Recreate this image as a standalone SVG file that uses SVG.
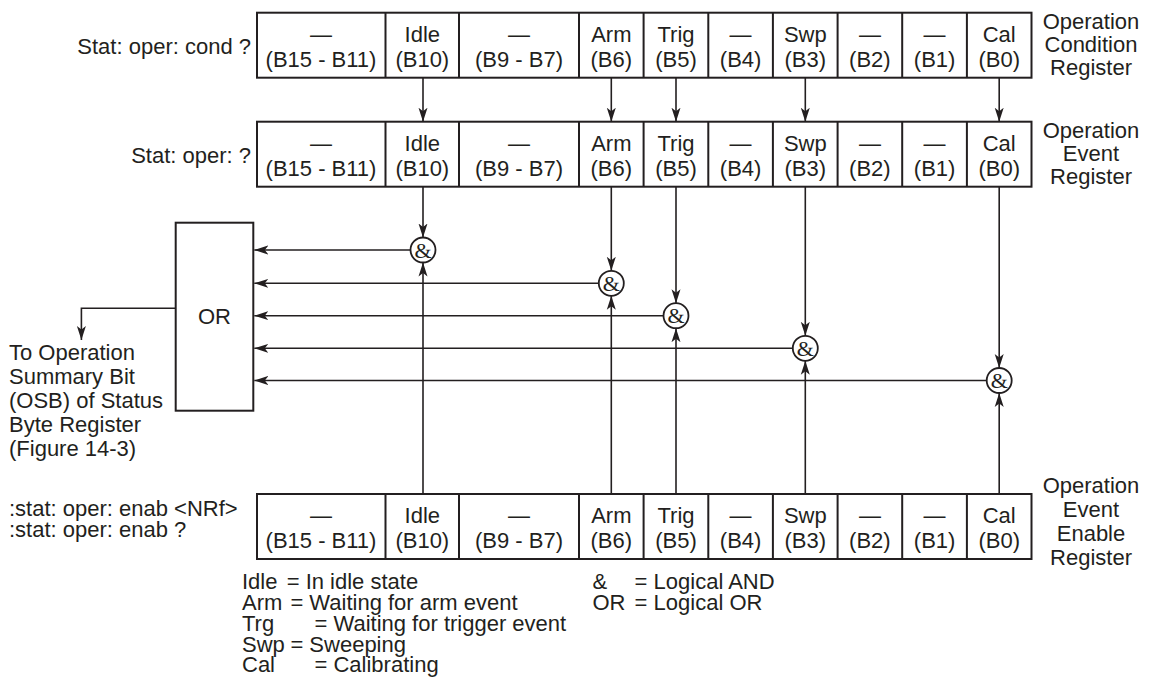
<svg xmlns="http://www.w3.org/2000/svg" width="1160" height="677" viewBox="0 0 1160 677">
<style>
text{font-family:"Liberation Sans",Arial,sans-serif;font-size:22px;fill:#231f20}
.c{text-anchor:middle}
.r{text-anchor:end}
.box{fill:#fff;stroke:#231f20;stroke-width:2}
.ln{fill:none;stroke:#231f20;stroke-width:1.6}
.and{fill:#fff;stroke:#231f20;stroke-width:1.8}
.amp{font-family:"Liberation Serif","Times New Roman",serif;font-size:22px;text-anchor:middle}
</style>
<defs>
<marker id="ah" markerUnits="userSpaceOnUse" markerWidth="15" markerHeight="10" refX="14" refY="5" orient="auto">
<path d="M0,0.5 L14,5 L0,9.5 L3.5,5 z" fill="#231f20"/>
</marker>
<g id="cells">
<rect class="box" x="257" y="0" width="774.5" height="65"/>
<path class="ln" d="M385.5,0V65M459,0V65M579,0V65M643.6,0V65M708.3,0V65M772.9,0V65M837.6,0V65M902.2,0V65M966.9,0V65" style="stroke-width:2"/>
<text class="c" x="321" y="29">—</text><text class="c" x="321" y="54">(B15 - B11)</text>
<text class="c" x="422.3" y="29">Idle</text><text class="c" x="422.3" y="54">(B10)</text>
<text class="c" x="519" y="29">—</text><text class="c" x="519" y="54">(B9 - B7)</text>
<text class="c" x="611.3" y="29">Arm</text><text class="c" x="611.3" y="54">(B6)</text>
<text class="c" x="676" y="29">Trig</text><text class="c" x="676" y="54">(B5)</text>
<text class="c" x="740.6" y="29">—</text><text class="c" x="740.6" y="54">(B4)</text>
<text class="c" x="805.3" y="29">Swp</text><text class="c" x="805.3" y="54">(B3)</text>
<text class="c" x="869.9" y="29">—</text><text class="c" x="869.9" y="54">(B2)</text>
<text class="c" x="934.6" y="29">—</text><text class="c" x="934.6" y="54">(B1)</text>
<text class="c" x="999.2" y="29">Cal</text><text class="c" x="999.2" y="54">(B0)</text>
</g>
</defs>

<g id="cond-register">
<use href="#cells" x="0" y="12.7"/>
<text class="r" x="251" y="54">Stat: oper: cond ?</text>
<text class="c" x="1091" y="28.5">Operation</text>
<text class="c" x="1091" y="51.8">Condition</text>
<text class="c" x="1091" y="75">Register</text>
</g>

<g id="event-register">
<use href="#cells" x="0" y="121.7"/>
<text class="r" x="251" y="163">Stat: oper: ?</text>
<text class="c" x="1091" y="137.5">Operation</text>
<text class="c" x="1091" y="160.8">Event</text>
<text class="c" x="1091" y="184">Register</text>
</g>

<g id="enable-register">
<use href="#cells" x="0" y="494"/>
<text x="9" y="516">:stat: oper: enab &lt;NRf&gt;</text>
<text x="9" y="537">:stat: oper: enab ?</text>
<text class="c" x="1091" y="493">Operation</text>
<text class="c" x="1091" y="517">Event</text>
<text class="c" x="1091" y="541">Enable</text>
<text class="c" x="1091" y="565">Register</text>
</g>

<g id="or-gate">
<rect class="box" x="175.7" y="222.7" width="77.6" height="188"/>
<text class="c" x="214.5" y="324">OR</text>
</g>

<g id="and-idle"><circle class="and" cx="423" cy="250" r="12.5"/><text class="amp" x="423" y="257.5">&amp;</text></g>
<g id="and-arm"><circle class="and" cx="611.3" cy="283.3" r="12.5"/><text class="amp" x="611.3" y="290.8">&amp;</text></g>
<g id="and-trig"><circle class="and" cx="676" cy="315.7" r="12.5"/><text class="amp" x="676" y="323.2">&amp;</text></g>
<g id="and-swp"><circle class="and" cx="805.3" cy="348.3" r="12.5"/><text class="amp" x="805.3" y="355.8">&amp;</text></g>
<g id="and-cal"><circle class="and" cx="999.2" cy="380.5" r="12.5"/><text class="amp" x="999.2" y="388">&amp;</text></g>

<g id="connectors">
<path class="ln" marker-end="url(#ah)" d="M423,77.7V121.7"/>
<path class="ln" marker-end="url(#ah)" d="M611.3,77.7V121.7"/>
<path class="ln" marker-end="url(#ah)" d="M676,77.7V121.7"/>
<path class="ln" marker-end="url(#ah)" d="M805.3,77.7V121.7"/>
<path class="ln" marker-end="url(#ah)" d="M999.2,77.7V121.7"/>

<path class="ln" marker-end="url(#ah)" d="M423,186.7V237.5"/>
<path class="ln" marker-end="url(#ah)" d="M611.3,186.7V270.8"/>
<path class="ln" marker-end="url(#ah)" d="M676,186.7V303.2"/>
<path class="ln" marker-end="url(#ah)" d="M805.3,186.7V335.8"/>
<path class="ln" marker-end="url(#ah)" d="M999.2,186.7V368"/>

<path class="ln" marker-end="url(#ah)" d="M423,494V262.5"/>
<path class="ln" marker-end="url(#ah)" d="M611.3,494V295.8"/>
<path class="ln" marker-end="url(#ah)" d="M676,494V328.2"/>
<path class="ln" marker-end="url(#ah)" d="M805.3,494V360.8"/>
<path class="ln" marker-end="url(#ah)" d="M999.2,494V393"/>

<path class="ln" marker-end="url(#ah)" d="M410.5,250H254.3"/>
<path class="ln" marker-end="url(#ah)" d="M598.8,283.3H254.3"/>
<path class="ln" marker-end="url(#ah)" d="M663.5,315.7H254.3"/>
<path class="ln" marker-end="url(#ah)" d="M792.8,348.3H254.3"/>
<path class="ln" marker-end="url(#ah)" d="M986.7,380.5H254.3"/>

<path class="ln" marker-end="url(#ah)" d="M175.7,308.3H81.4V340"/>
</g>

<g id="notes">
<text x="9" y="360">To Operation</text>
<text x="9" y="384">Summary Bit</text>
<text x="9" y="408">(OSB) of Status</text>
<text x="9" y="432">Byte Register</text>
<text x="9" y="456">(Figure 14-3)</text>
</g>

<g id="legend">
<text x="242" y="589">Idle<tspan x="286.7">= In idle state</tspan></text>
<text x="242" y="610">Arm<tspan x="290.4">= Waiting for arm event</tspan></text>
<text x="242" y="631">Trg<tspan x="314.5">= Waiting for trigger event</tspan></text>
<text x="242" y="651.5">Swp<tspan x="290.4">= Sweeping</tspan></text>
<text x="242" y="672">Cal<tspan x="314.5">= Calibrating</tspan></text>
<text x="592.5" y="589">&amp;<tspan x="634.6">= Logical AND</tspan></text>
<text x="592.5" y="610">OR<tspan x="634.6">= Logical OR</tspan></text>
</g>
</svg>
